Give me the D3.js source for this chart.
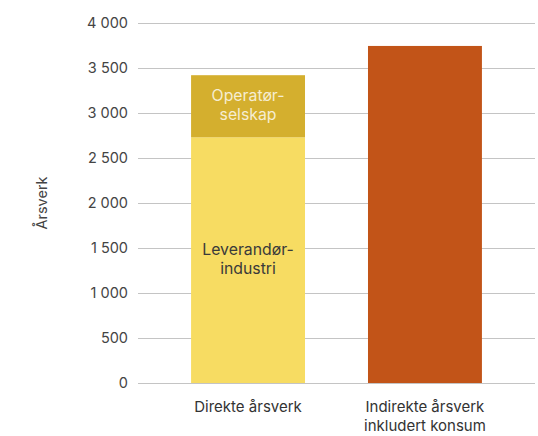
<html>
<script src="https://d3js.org/d3.v7.js"></script>
<body style="margin:0;background:#fff;">
<div id="chart"></div>
<script>
    // categories and values
    let categories = ["Direkte årsverk", "Indirekte årsverk\ninkludert konsum"];
    let leverandor = [2730, 0];
    let operator = [690, 0];
    let indirekte = [0, 3745];
    let tickValues = [0, 500, 1000, 1500, 2000, 2500, 3000, 3500, 4000];
    let tickLabels = ["0", "500", "1 000", "1 500", "2 000", "2 500", "3 000", "3 500", "4 000"];

    let width = 538, height = 436;
    let font = "Inter, 'Open Sans', sans-serif";

    let svg = d3.select("#chart").append("svg")
        .attr("width", width).attr("height", height)
        .style("font-family", font);

    let x = d3.scaleBand().domain(categories).range([138, 535])
        .paddingInner(0.356).paddingOuter(0.3);
    let y = d3.scaleLinear().domain([0, 4000]).range([383, 23]);

    // gridlines + tick labels
    let yAxis = d3.axisLeft(y).tickValues(tickValues)
        .tickFormat((d, i) => tickLabels[i])
        .tickSize(-(535 - 138)).tickPadding(10);
    let ga = svg.append("g").attr("transform", "translate(138,0)").call(yAxis);
    ga.select(".domain").remove();
    ga.selectAll(".tick line").attr("stroke", "#c4c4c4").attr("stroke-width", 1);
    ga.selectAll(".tick text").attr("fill", "#444").style("font-size", "14.5px")
        .style("font-family", font);

    svg.append("text")
        .attr("transform", "translate(47,203) rotate(-90)")
        .attr("text-anchor", "middle")
        .attr("fill", "#444").style("font-size", "14.5px")
        .text("Årsverk");

    // stacked bar segments
    let segs = [];
    categories.forEach((c, i) => {
        segs.push({cat: c, y0: 0, y1: leverandor[i], color: "#f7dc62"});
        segs.push({cat: c, y0: leverandor[i], y1: leverandor[i] + operator[i], color: "#d4af2e"});
        segs.push({cat: c, y0: 0, y1: indirekte[i], color: "#c25418"});
    });
    svg.selectAll(".bar").data(segs.filter(d => d.y1 > d.y0)).join("rect")
        .attr("class", "bar")
        .attr("x", d => x(d.cat))
        .attr("width", x.bandwidth())
        .attr("y", d => y(d.y1))
        .attr("height", d => y(d.y0) - y(d.y1))
        .attr("fill", d => d.color);

    // labels inside the first bar
    let cx = x(categories[0]) + x.bandwidth() / 2;
    let inner = [
        {lines: ["Operatør-", "selskap"], mid: leverandor[0] + operator[0] / 2, color: "#f6edd2"},
        {lines: ["Leverandør-", "industri"], mid: leverandor[0] / 2, color: "#3a3a3a"}
    ];
    inner.forEach(l => {
        let t = svg.append("text").attr("text-anchor", "middle")
            .attr("fill", l.color).style("font-size", "15.8px")
            .attr("x", cx).attr("y", y(l.mid) - 5);
        l.lines.forEach((s, i) => t.append("tspan").attr("x", cx).attr("dy", i ? 19 : 0).text(s));
    });

    // category labels
    categories.forEach(c => {
        let t = svg.append("text").attr("text-anchor", "middle")
            .attr("fill", "#333").style("font-size", "15px")
            .attr("x", x(c) + x.bandwidth() / 2).attr("y", 412);
        c.split("\n").forEach((s, i) => t.append("tspan")
            .attr("x", x(c) + x.bandwidth() / 2).attr("dy", i ? 18.5 : 0).text(s));
    });
</script>
</body>
</html>
